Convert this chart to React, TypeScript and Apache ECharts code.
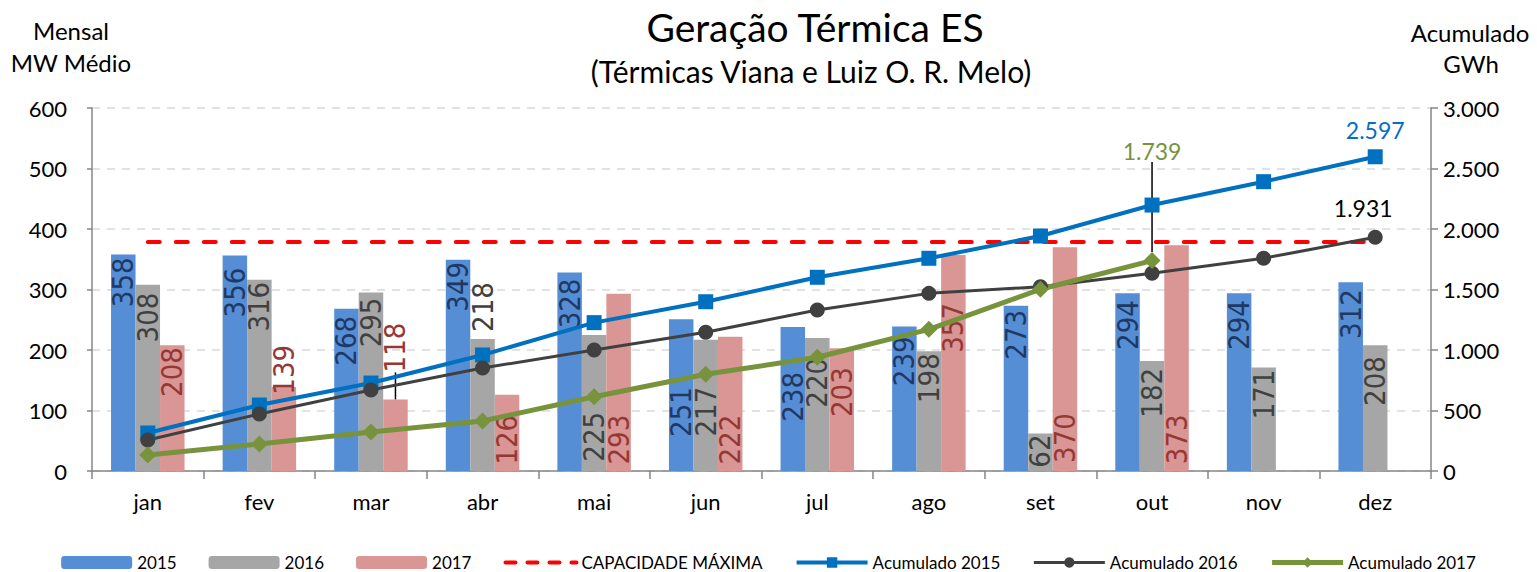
import React, { useEffect, useRef } from 'react';
import * as echarts from 'echarts';

const months = ['jan', 'fev', 'mar', 'abr', 'mai', 'jun', 'jul', 'ago', 'set', 'out', 'nov', 'dez'];
const mw2015 = [358, 356, 268, 349, 328, 251, 238, 239, 273, 294, 294, 312];
const mw2016 = [308, 316, 295, 218, 225, 217, 220, 198, 62, 182, 171, 208];
const mw2017 = [208, 139, 118, 126, 293, 222, 203, 357, 370, 373, null, null];
const capacidade = [378.6, 378.6, 378.6, 378.6, 378.6, 378.6, 378.6, 378.6, 378.6, 378.6, 378.6, 378.6];
const acum2015 = [314, 545, 727, 959, 1226, 1399, 1601, 1758, 1942, 2198, 2391, 2597];
const acum2016 = [256, 471, 669, 851, 1000, 1146, 1331, 1468, 1523, 1634, 1758, 1931];
const acum2017 = [132, 223, 322, 413, 614, 799, 940, 1171, 1502, 1739, null, null];
const leftTicks = { min: 0, max: 600, interval: 100 };
const rightTicks = { min: 0, max: 3000, interval: 500 };

// label placement (px from bar top to label top) — styling only
const lab2015 = [3, 12, 7, 2, 6, 68, 45, 10, 4, 7, 7, 7];
const lab2016 = [8, 2, 5, -57, 77, 47, 20, 2, 1, 7, 2, 11];
const lab2017 = [2, -42, -77, 20, 121, 78, 19, 48, 166, 169, 0, 0];

const FONT = 'Lato, "Open Sans", sans-serif';
const NARROW = '"Liberation Sans Narrow", "DejaVu Sans Condensed", Lato, sans-serif';

const fmt = (v: number) => String(Math.round(v)).replace(/\B(?=(\d{3})+(?!\d))/g, '.');

function barItems(values: (number | null)[], offs: number[], guideIndex = -1) {
  return values.map((v, i) => {
    if (v == null) return null;
    const item: any = { value: v, label: { position: ['50%', offs[i]] } };
    if (i === guideIndex) {
      item.labelLine = { show: true, lineStyle: { color: '#000', width: 1.5 } };
    }
    return item;
  });
}

function barSeries(name: string, values: (number | null)[], offs: number[], color: string, labelColor: string, guideIndex = -1) {
  return {
    name,
    type: 'bar',
    yAxisIndex: 0,
    barWidth: 24.5,
    barGap: '0%',
    itemStyle: { color },
    label: {
      show: true,
      rotate: 90,
      align: 'right',
      verticalAlign: 'middle',
      fontFamily: NARROW,
      fontSize: 29,
      color: labelColor,
      formatter: (p: any) => String(p.value),
    },
    data: barItems(values, offs, guideIndex),
  };
}

function lastLabel(values: (number | null)[], idx: number, color: string, extra: any = {}) {
  return values.map((v, i) => {
    if (v == null) return null;
    if (i !== idx) return v;
    return {
      value: v,
      label: {
        show: true,
        position: 'top',
        distance: 8,
        color,
        fontFamily: FONT,
        fontSize: 23,
        formatter: (p: any) => fmt(p.value),
        ...extra,
      },
    };
  });
}

export default function App() {
  const ref = useRef<HTMLDivElement>(null);
  useEffect(() => {
    if (!ref.current) return;
    const chart = echarts.init(ref.current, undefined, { renderer: 'svg' });
    const option: any = {
      animation: false,
      backgroundColor: '#fff',
      textStyle: { fontFamily: FONT },
      grid: { left: 92, right: 106, top: 108, bottom: 101 },
      legend: {
        left: 'center',
        top: 549,
        itemWidth: 71,
        itemHeight: 13,
        itemGap: 32,
        textStyle: { fontFamily: FONT, fontSize: 17, color: '#000' },
        data: [
          { name: '2015' },
          { name: '2016' },
          { name: '2017' },
          { name: 'CAPACIDADE MÁXIMA', itemStyle: { opacity: 0 }, lineStyle: { width: 4, type: [10, 12], cap: 'round' } },
          { name: 'Acumulado 2015', lineStyle: { width: 4 } },
          { name: 'Acumulado 2016', lineStyle: { width: 3 } },
          { name: 'Acumulado 2017', lineStyle: { width: 5 } },
        ],
      },
      graphic: [
        { type: 'text', x: 815, y: 27, style: { text: 'Geração Térmica ES', fontFamily: FONT, fontSize: 39, fill: '#000', textAlign: 'center', textVerticalAlign: 'middle' } },
        { type: 'text', x: 811, y: 71, style: { text: '(Térmicas Viana e Luiz O. R. Melo)', fontFamily: FONT, fontSize: 30, fill: '#000', textAlign: 'center', textVerticalAlign: 'middle' } },
        { type: 'text', x: 71, y: 30, style: { text: 'Mensal', fontFamily: FONT, fontSize: 24, fill: '#000', textAlign: 'center', textVerticalAlign: 'middle' } },
        { type: 'text', x: 71, y: 62, style: { text: 'MW Médio', fontFamily: FONT, fontSize: 24, fill: '#000', textAlign: 'center', textVerticalAlign: 'middle' } },
        { type: 'text', x: 1470, y: 32, style: { text: 'Acumulado', fontFamily: FONT, fontSize: 24, fill: '#000', textAlign: 'center', textVerticalAlign: 'middle' } },
        { type: 'text', x: 1471, y: 63, style: { text: 'GWh', fontFamily: FONT, fontSize: 24, fill: '#000', textAlign: 'center', textVerticalAlign: 'middle' } },
      ],
      xAxis: {
        type: 'category',
        data: months,
        axisLine: { lineStyle: { color: '#868686', width: 1.5 } },
        axisTick: { show: true, length: 8, lineStyle: { color: '#868686', width: 1.5 } },
        axisLabel: { fontFamily: FONT, fontSize: 22, color: '#000', margin: 19 },
      },
      yAxis: [
        {
          type: 'value',
          ...leftTicks,
          axisLine: { show: true, lineStyle: { color: '#868686', width: 1.5 } },
          axisTick: { show: true, length: 5, lineStyle: { color: '#868686', width: 1.5 } },
          axisLabel: { fontFamily: FONT, fontSize: 22, color: '#000', margin: 25 },
          splitLine: { show: true, lineStyle: { color: '#D9D9D9', width: 1.5, type: [8, 7] } },
        },
        {
          type: 'value',
          ...rightTicks,
          position: 'right',
          axisLine: { show: true, lineStyle: { color: '#868686', width: 1.5 } },
          axisTick: { show: true, length: 7, lineStyle: { color: '#868686', width: 1.5 } },
          axisLabel: { fontFamily: FONT, fontSize: 22, color: '#000', margin: 12, formatter: (v: number) => fmt(v) },
          splitLine: { show: false },
        },
      ],
      series: [
        barSeries('2015', mw2015, lab2015, '#558ED5', '#1F3864'),
        barSeries('2016', mw2016, lab2016, '#A6A6A6', '#404040'),
        barSeries('2017', mw2017, lab2017, '#D99694', '#953735', 2),
        {
          name: 'CAPACIDADE MÁXIMA',
          type: 'line',
          yAxisIndex: 0,
          symbol: 'none',
          lineStyle: { color: '#FF0000', width: 4, type: [12, 16], cap: 'round' },
          itemStyle: { color: '#FF0000' },
          data: capacidade.map((v, i) =>
            i === 6
              ? { value: v, label: { show: true, position: 'top', distance: 14, color: '#FF0000', fontFamily: FONT, fontSize: 23, formatter: (p: any) => String(p.value).replace('.', ',') } }
              : v
          ),
        },
        {
          name: 'Acumulado 2015',
          type: 'line',
          yAxisIndex: 1,
          symbol: 'rect',
          symbolSize: 15,
          lineStyle: { color: '#0070C0', width: 4 },
          itemStyle: { color: '#0070C0' },
          data: lastLabel(acum2015, 11, '#0070C0'),
        },
        {
          name: 'Acumulado 2016',
          type: 'line',
          yAxisIndex: 1,
          symbol: 'circle',
          symbolSize: 15,
          lineStyle: { color: '#404040', width: 3 },
          itemStyle: { color: '#404040' },
          data: lastLabel(acum2016, 11, '#000', { offset: [-12, 0], distance: 10 }),
        },
        {
          name: 'Acumulado 2017',
          type: 'line',
          yAxisIndex: 1,
          symbol: 'diamond',
          symbolSize: 17,
          lineStyle: { color: '#77933C', width: 5 },
          itemStyle: { color: '#77933C' },
          labelLine: { show: true, lineStyle: { color: '#000', width: 1.5 } },
          labelLayout: { dy: -82 },
          data: lastLabel(acum2017, 9, '#77933C', { offset: [-4, 0] }),
        },
      ],
    };
    chart.setOption(option);
    return () => chart.dispose();
  }, []);
  return <div ref={ref} style={{ position: 'absolute', left: 0, top: 0, width: 1537, height: 572 }} />;
}
